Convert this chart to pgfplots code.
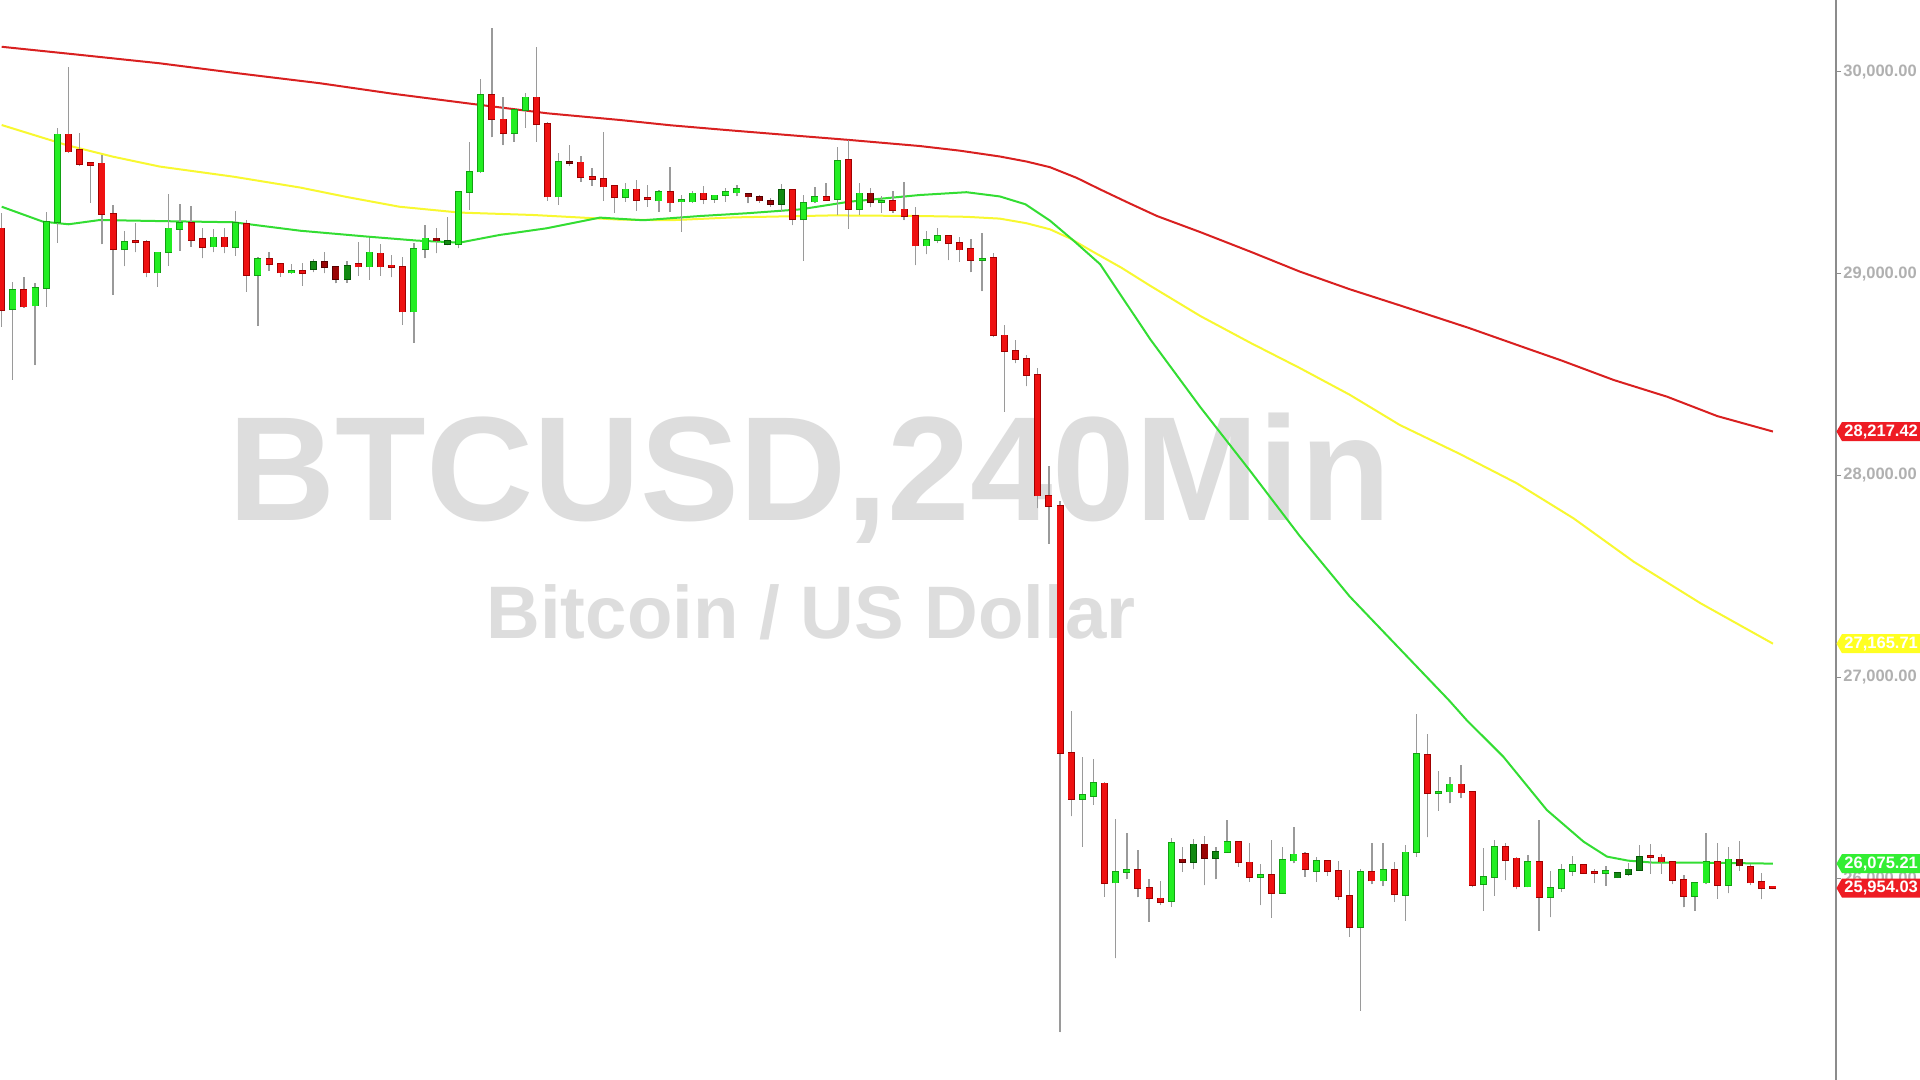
\documentclass[border=0pt]{standalone}
\usepackage{fontspec}
\setmainfont{Liberation Sans}
\usepackage{pgfplots}
\pgfplotsset{compat=1.18}
\usepackage{pgfplotstable}
\usetikzlibrary{shapes.symbols}

\definecolor{wm}{HTML}{DDDDDD}
\definecolor{tickgray}{HTML}{B0B0B0}
\definecolor{axgray}{HTML}{8C8C8C}
\definecolor{wick}{HTML}{9A9A9A}
\definecolor{gfill}{HTML}{22EE22}
\definecolor{gline}{HTML}{12A012}
\definecolor{rfill}{HTML}{EE1111}
\definecolor{rline}{HTML}{A00000}
\definecolor{dgfill}{HTML}{128A12}
\definecolor{dgline}{HTML}{055505}
\definecolor{drfill}{HTML}{990505}
\definecolor{drline}{HTML}{550000}
\definecolor{mared}{HTML}{D92020}
\definecolor{mayel}{HTML}{F8F830}
\definecolor{magrn}{HTML}{33DD33}
\definecolor{tagred}{HTML}{EE1C24}
\definecolor{tagyel}{HTML}{FFFF22}
\definecolor{taggrn}{HTML}{33EE33}

\pgfplotstableread{
i o h l c t
0 29225 29300 28737 28820 2
1 28823 28961 28473 28919 1
2 28919 28982 28830 28837 2
3 28842 28952 28547 28928 1
4 28928 29308 28837 29258 1
5 29255 29721 29154 29691 1
6 29691 30027 29600 29605 2
7 29613 29696 29536 29544 2
8 29547 29550 29352 29540 2
9 29547 29589 29147 29296 2
10 29296 29341 28895 29121 2
11 29121 29212 29038 29159 1
12 29159 29250 29106 29155 2
13 29159 29165 28982 29005 2
14 29005 29110 28936 29106 1
15 29106 29395 29040 29225 1
16 29222 29346 29114 29253 1
17 29253 29336 29134 29167 2
18 29172 29225 29076 29131 2
19 29134 29222 29106 29180 1
20 29180 29225 29101 29134 2
21 29131 29311 29090 29253 1
22 29247 29266 28911 28994 2
23 28994 29081 28741 29073 1
24 29073 29106 29015 29047 2
25 29047 29050 28985 29005 2
26 29005 29047 29000 29010 1
27 29013 29052 28941 29002 2
28 29023 29071 29007 29057 3
29 29057 29106 29002 29032 4
30 29032 29035 28952 28972 4
31 28972 29065 28956 29040 3
32 29047 29159 28990 29035 2
33 29035 29175 28969 29106 1
34 29101 29147 28989 29035 2
35 29035 29093 28982 29033 2
36 29032 29081 28746 28812 2
37 28812 29154 28658 29121 1
38 29121 29242 29076 29175 1
39 29175 29225 29101 29164 4
40 29146 29283 29140 29162 3
41 29146 29404 29126 29404 1
42 29404 29655 29316 29506 1
43 29506 29964 29500 29886 1
44 29886 30217 29676 29765 2
45 29765 29874 29638 29699 2
46 29699 29815 29655 29812 1
47 29812 29894 29724 29874 1
48 29874 30122 29655 29741 2
49 29741 29754 29362 29382 2
50 29382 29600 29341 29556 1
51 29556 29638 29536 29547 4
52 29552 29584 29456 29478 2
53 29481 29523 29437 29468 2
54 29468 29704 29362 29432 2
55 29435 29440 29302 29379 2
56 29379 29451 29357 29418 1
57 29418 29464 29312 29365 2
58 29370 29440 29332 29368 2
59 29362 29415 29307 29407 1
60 29407 29531 29307 29352 2
61 29360 29390 29208 29357 1
62 29357 29412 29352 29398 1
63 29398 29435 29345 29369 2
64 29370 29392 29352 29388 1
65 29388 29423 29357 29405 1
66 29402 29440 29385 29420 1
67 29395 29398 29349 29382 4
68 29382 29388 29352 29362 4
69 29362 29374 29332 29346 4
70 29346 29445 29307 29415 3
71 29415 29418 29241 29270 2
72 29270 29390 29064 29349 1
73 29357 29431 29352 29379 1
74 29382 29451 29362 29365 2
75 29369 29626 29291 29559 1
76 29564 29663 29222 29321 2
77 29321 29451 29291 29398 1
78 29398 29423 29329 29354 4
79 29354 29385 29302 29360 1
80 29360 29410 29302 29316 2
81 29319 29456 29266 29286 2
82 29286 29329 29043 29139 2
83 29139 29212 29096 29168 1
84 29165 29227 29151 29186 1
85 29186 29190 29067 29151 2
86 29151 29180 29058 29119 2
87 29122 29174 29008 29067 2
88 29067 29203 28912 29072 1
89 29078 29101 28686 28694 2
90 28694 28747 28316 28616 2
91 28619 28671 28555 28578 2
92 28578 28598 28441 28499 2
93 28499 28534 27836 27900 2
94 27900 28048 27662 27848 2
95 27848 27874 25240 26623 2
96 26623 26832 26309 26396 2
97 26396 26606 26158 26416 1
98 26411 26594 26367 26477 1
99 26473 26481 25911 25977 2
100 25981 26295 25605 26035 1
101 26035 26225 25997 26040 1
102 26043 26143 25908 25953 2
103 25956 26000 25787 25903 2
104 25903 25989 25870 25886 2
105 25891 26200 25862 26176 1
106 26096 26156 26035 26083 4
107 26083 26196 26048 26171 3
108 26171 26212 25969 26101 4
109 26101 26159 25997 26134 3
110 26134 26291 26129 26184 1
111 26184 26186 26060 26081 2
112 26081 26179 25986 26007 2
113 26007 26073 25870 26019 1
114 26019 26192 25807 25931 2
115 25931 26159 25928 26093 1
116 26090 26255 26076 26121 1
117 26123 26134 26010 26047 2
118 26040 26106 25986 26090 1
119 26090 26095 26015 26040 2
120 26040 26088 25895 25915 2
121 25915 26043 25713 25759 2
122 25759 26047 25346 26035 1
123 26035 26176 25974 25991 2
124 25991 26176 25964 26043 1
125 26043 26085 25886 25923 2
126 25918 26167 25792 26131 1
127 26131 26817 26110 26619 1
128 26614 26718 26205 26424 2
129 26424 26534 26338 26432 1
130 26432 26503 26374 26468 1
131 26468 26564 26399 26427 2
132 26429 26432 25958 25969 2
133 25974 26151 25842 26010 1
134 26010 26192 25915 26159 1
135 26159 26176 25994 26093 2
136 26101 26106 25948 25961 2
137 25961 26118 25958 26085 1
138 26085 26291 25743 25911 2
139 25911 26040 25809 25953 1
140 25953 26073 25936 26044 1
141 26040 26115 26015 26068 1
142 26068 26070 26028 26030 2
143 26035 26047 25981 26027 2
144 26027 26063 25966 26040 1
145 26006 26032 26004 26030 3
146 26024 26080 26014 26047 3
147 26044 26167 26040 26110 3
148 26110 26172 26024 26106 2
149 26106 26123 26024 26085 2
150 26085 26090 25974 25994 2
151 25994 26019 25858 25916 2
152 25916 25983 25842 25981 1
153 25981 26229 25974 26085 1
154 26085 26179 25900 25969 2
155 25969 26159 25928 26096 1
156 26096 26186 26040 26065 4
157 26060 26073 25969 25981 2
158 25986 26027 25898 25953 2
159 25956 25958 25948 25954 2
}\candles

\tikzset{pricetag/.style={signal, signal to=west, signal pointer angle=120,
  fill=#1, draw=none, anchor=west, minimum height=9.5pt, inner ysep=0pt, inner xsep=1.25pt,
  text=white, font=\fontsize{8.25}{9}\selectfont\bfseries, text width=47pt, align=left}}

\pgfplotsset{
  nomark/.style={only marks, mark=*, mark size=0pt, mark options={draw=none, fill=none}, forget plot},
}

\begin{document}
\begin{tikzpicture}
\fill[white] (0,0) rectangle (960pt,540pt);
\node[anchor=base, inner sep=0pt, text=wm] at (404.75pt,279.5pt)
  {\fontsize{74.2}{76}\selectfont\bfseries BTCUSD,240Min};
\node[anchor=base, inner sep=0pt, text=wm] at (405.5pt,220.5pt)
  {\fontsize{37.2}{38}\selectfont\bfseries Bitcoin / US Dollar};
\begin{axis}[
  at={(0pt,0pt)}, anchor=south west,
  scale only axis, width=918pt, height=540pt,
  xmin=-0.153, xmax=164.66, ymin=25002.5, ymax=30357,
  axis x line=none, axis y line=right,
  axis line style={-, draw=axgray, line width=0.6pt},
  ytick={26000,27000,28000,29000,30000},
  yticklabels={{26,000.00},{27,000.00},{28,000.00},{29,000.00},{30,000.00}},
  tick align=outside, major tick length=2.5pt,
  ytick style={draw=axgray, line width=0.5pt},
  yticklabel style={font=\fontsize{8.25}{9}\selectfont\bfseries, text=tickgray, anchor=west, inner sep=0pt, xshift=1pt},
]
\addplot[mared, line width=1pt, forget plot] coordinates {
(0,30125) (7,30085) (14.2,30043) (21,29995) (28.6,29944) (35,29893) (42.9,29837) (49,29795) (55.5,29762) (60,29736) (65.1,29712) (70,29690) (76.1,29663) (82.4,29633) (86,29610) (89.6,29581) (92,29556) (94.1,29528) (96.5,29475) (98.6,29418) (101,29355) (103.7,29286) (107.6,29206) (112.1,29109) (116.5,29011) (121,28923) (125.5,28843) (131.7,28731) (137.3,28622) (140,28570) (144.7,28473) (149.5,28390) (154,28294) (159,28217.42)};
\addplot[mayel, line width=1pt, forget plot] coordinates {
(0,29737) (5.8,29638) (10,29580) (14.2,29531) (20.8,29481) (26.8,29427) (31,29380) (35.7,29332) (41.1,29303) (47.7,29291) (55.5,29268) (60,29265) (65.7,29279) (74.6,29289) (82.4,29286) (86.6,29282) (89.6,29273) (92,29250) (94.1,29220) (95.9,29175) (97.7,29117) (100.5,29030) (103.1,28940) (107.6,28790) (112.1,28657) (116.5,28533) (121,28400) (125.5,28250) (130.9,28106) (136,27961) (141.1,27787) (146.5,27572) (152.5,27366) (159,27165.71)};
\addplot[magrn, line width=1pt, forget plot] coordinates {
(0,29332) (3.7,29258) (6,29245) (8.8,29266) (14,29261) (20.8,29255) (26.8,29213) (32.8,29184) (37.3,29164) (41.1,29154) (44.7,29192) (48.9,29225) (53.7,29278) (57.6,29265) (62.7,29286) (67,29300) (71.7,29319) (76.1,29357) (82.4,29390) (86.6,29404) (89.6,29383) (91.9,29344) (94.1,29263) (96.3,29160) (98.6,29047) (103.1,28675) (107.6,28338) (112.1,28020) (116.5,27701) (121,27400) (125.5,27140) (129.9,26886) (131.5,26787) (134.8,26605) (138.7,26341) (142,26184) (144.1,26110) (146,26090) (148.3,26080) (152.7,26080) (159,26075.21)};
% wicks
\addplot[nomark,
  error bars/.cd, y dir=plus, y explicit, error mark=none,
  error bar style={draw=wick, line width=0.65pt}]
  table[x=i, y=l, y error plus expr={\thisrow{h}-\thisrow{l}}] {\candles};
% bodies: outline then fill, one pair per colour type
\addplot[nomark, restrict expr to domain={\thisrow{t}}{0.5:1.5},
  error bars/.cd, y dir=plus, y explicit, error mark=none, error bar style={draw=gline, line width=3.5pt}]
  table[x=i, y expr={min(\thisrow{o},\thisrow{c})-4}, y error plus expr={max(abs(\thisrow{c}-\thisrow{o}),8)+8}] {\candles};
\addplot[nomark, restrict expr to domain={\thisrow{t}}{0.5:1.5},
  error bars/.cd, y dir=plus, y explicit, error mark=none, error bar style={draw=gfill, line width=2.7pt}]
  table[x=i, y expr={min(\thisrow{o},\thisrow{c})}, y error plus expr={max(abs(\thisrow{c}-\thisrow{o}),8)}] {\candles};
\addplot[nomark, restrict expr to domain={\thisrow{t}}{1.5:2.5},
  error bars/.cd, y dir=plus, y explicit, error mark=none, error bar style={draw=rline, line width=3.5pt}]
  table[x=i, y expr={min(\thisrow{o},\thisrow{c})-4}, y error plus expr={max(abs(\thisrow{c}-\thisrow{o}),8)+8}] {\candles};
\addplot[nomark, restrict expr to domain={\thisrow{t}}{1.5:2.5},
  error bars/.cd, y dir=plus, y explicit, error mark=none, error bar style={draw=rfill, line width=2.7pt}]
  table[x=i, y expr={min(\thisrow{o},\thisrow{c})}, y error plus expr={max(abs(\thisrow{c}-\thisrow{o}),8)}] {\candles};
\addplot[nomark, restrict expr to domain={\thisrow{t}}{2.5:3.5},
  error bars/.cd, y dir=plus, y explicit, error mark=none, error bar style={draw=dgline, line width=3.5pt}]
  table[x=i, y expr={min(\thisrow{o},\thisrow{c})-4}, y error plus expr={max(abs(\thisrow{c}-\thisrow{o}),8)+8}] {\candles};
\addplot[nomark, restrict expr to domain={\thisrow{t}}{2.5:3.5},
  error bars/.cd, y dir=plus, y explicit, error mark=none, error bar style={draw=dgfill, line width=2.7pt}]
  table[x=i, y expr={min(\thisrow{o},\thisrow{c})}, y error plus expr={max(abs(\thisrow{c}-\thisrow{o}),8)}] {\candles};
\addplot[nomark, restrict expr to domain={\thisrow{t}}{3.5:4.5},
  error bars/.cd, y dir=plus, y explicit, error mark=none, error bar style={draw=drline, line width=3.5pt}]
  table[x=i, y expr={min(\thisrow{o},\thisrow{c})-4}, y error plus expr={max(abs(\thisrow{c}-\thisrow{o}),8)+8}] {\candles};
\addplot[nomark, restrict expr to domain={\thisrow{t}}{3.5:4.5},
  error bars/.cd, y dir=plus, y explicit, error mark=none, error bar style={draw=drfill, line width=2.7pt}]
  table[x=i, y expr={min(\thisrow{o},\thisrow{c})}, y error plus expr={max(abs(\thisrow{c}-\thisrow{o}),8)}] {\candles};
\coordinate (tR) at (axis cs:164.66,28217.42);
\coordinate (tY) at (axis cs:164.66,27165.71);
\coordinate (tG) at (axis cs:164.66,26075.21);
\coordinate (tL) at (axis cs:164.66,25954.03);
\end{axis}
\node[pricetag=tagred] at (tR) {28,217.42};
\node[pricetag=tagyel] at (tY) {27,165.71};
\node[pricetag=taggrn] at (tG) {26,075.21};
\node[pricetag=tagred] at (tL) {25,954.03};
\pgfresetboundingbox
\path[use as bounding box] (0,0) rectangle (960pt,540pt);
\end{tikzpicture}
\end{document}
